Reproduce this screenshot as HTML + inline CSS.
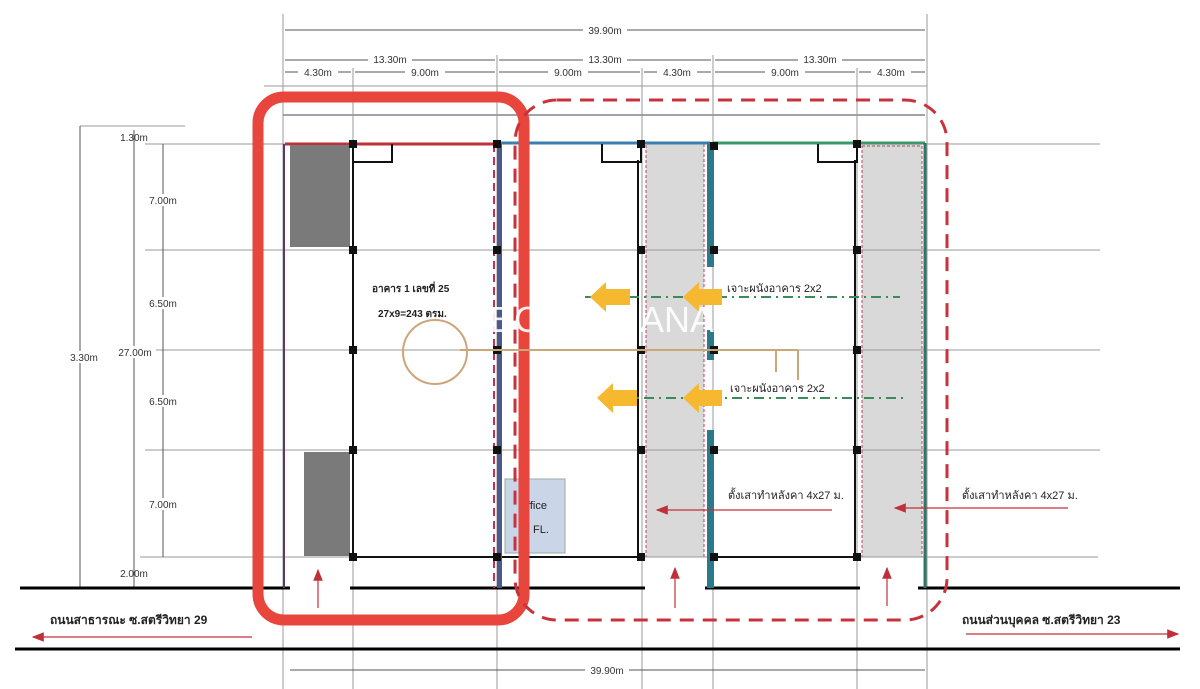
<!DOCTYPE html>
<html><head><meta charset="utf-8"><style>
html,body{margin:0;padding:0;background:#fff;}
svg{display:block;}
text{font-family:"Liberation Sans","Noto Sans CJK SC",sans-serif;}
</style></head><body>
<svg width="1200" height="689" viewBox="0 0 1200 689" xmlns="http://www.w3.org/2000/svg">
<defs>
<marker id="ra" markerWidth="10" markerHeight="8" refX="9" refY="4" orient="auto"><path d="M0,0 L10,4 L0,8z" fill="#c0303a"/></marker>
</defs>
<rect width="1200" height="689" fill="#fff"/>

<rect x="646" y="142" width="58" height="415" fill="#d9d9d9"/>
<rect x="862" y="142" width="60" height="415" fill="#d9d9d9"/>
<rect x="646" y="142" width="58" height="415" fill="none" stroke="#c04060" stroke-width="1" stroke-dasharray="3,2"/>
<rect x="862" y="146" width="60" height="411" fill="none" stroke="#c04060" stroke-width="1" stroke-dasharray="3,2"/>

<g stroke="#999" stroke-width="1">
<line x1="145" y1="144" x2="1100" y2="144"/>
<line x1="145" y1="250" x2="1100" y2="250"/>
<line x1="145" y1="350" x2="1100" y2="350"/>
<line x1="145" y1="450" x2="1100" y2="450"/>
<line x1="140" y1="557" x2="1098" y2="557"/>
<line x1="264" y1="86" x2="927" y2="86"/>
<line x1="283" y1="115" x2="925" y2="115" stroke="#445"/>
<line x1="80" y1="126" x2="185" y2="126"/>
</g>
<g stroke="#999" stroke-width="1">
<line x1="283" y1="14" x2="283" y2="689"/>
<line x1="353" y1="68" x2="353" y2="689"/>
<line x1="497" y1="55" x2="497" y2="689"/>
<line x1="642" y1="68" x2="642" y2="689"/>
<line x1="713" y1="55" x2="713" y2="689"/>
<line x1="857" y1="68" x2="857" y2="689"/>
<line x1="927" y1="14" x2="927" y2="689"/>
</g>

<g stroke="#555" stroke-width="1">
<line x1="285" y1="30" x2="925" y2="30"/>
<line x1="285" y1="60" x2="495" y2="60"/><line x1="499" y1="60" x2="711" y2="60"/><line x1="715" y1="60" x2="925" y2="60"/>
<line x1="285" y1="72" x2="351" y2="72"/><line x1="355" y1="72" x2="495" y2="72"/><line x1="499" y1="72" x2="640" y2="72"/><line x1="644" y1="72" x2="711" y2="72"/><line x1="715" y1="72" x2="855" y2="72"/><line x1="859" y1="72" x2="925" y2="72"/>
</g>
<g font-size="10" fill="#333" text-anchor="middle">
<rect x="583" y="24" width="44" height="12" fill="#fff"/><text x="605" y="34">39.90m</text>
<rect x="368" y="54" width="44" height="12" fill="#fff"/><text x="390" y="63">13.30m</text>
<rect x="583" y="54" width="44" height="12" fill="#fff"/><text x="605" y="63">13.30m</text>
<rect x="798" y="54" width="44" height="12" fill="#fff"/><text x="820" y="63">13.30m</text>
<rect x="298" y="67" width="40" height="11" fill="#fff"/><text x="318" y="76">4.30m</text>
<rect x="405" y="67" width="40" height="11" fill="#fff"/><text x="425" y="76">9.00m</text>
<rect x="548" y="67" width="40" height="11" fill="#fff"/><text x="568" y="76">9.00m</text>
<rect x="657" y="67" width="40" height="11" fill="#fff"/><text x="677" y="76">4.30m</text>
<rect x="765" y="67" width="40" height="11" fill="#fff"/><text x="785" y="76">9.00m</text>
<rect x="871" y="67" width="40" height="11" fill="#fff"/><text x="891" y="76">4.30m</text>
</g>

<g stroke="#555" stroke-width="1">
<line x1="80" y1="126" x2="80" y2="588"/>
<line x1="134" y1="130" x2="134" y2="588"/>
<line x1="163" y1="144" x2="163" y2="557"/>
<line x1="20" y1="588" x2="290" y2="588" stroke="#000" stroke-width="3"/>
</g>
<g font-size="10" fill="#333" text-anchor="middle">
<rect x="143" y="194" width="40" height="12" fill="#fff"/><text x="163" y="204">7.00m</text>
<rect x="143" y="297" width="40" height="12" fill="#fff"/><text x="163" y="307">6.50m</text>
<rect x="143" y="395" width="40" height="12" fill="#fff"/><text x="163" y="405">6.50m</text>
<rect x="143" y="498" width="40" height="12" fill="#fff"/><text x="163" y="508">7.00m</text>
<rect x="114" y="346" width="42" height="12" fill="#fff"/><text x="135" y="356">27.00m</text>
<rect x="66" y="351" width="32" height="12" fill="#fff"/><text x="84" y="361">3.30m</text>
<text x="134" y="577">2.00m</text>
<text x="134" y="141">1.30m</text>
</g>

<g stroke="#000" stroke-width="3">
<line x1="350" y1="588" x2="645" y2="588"/>
<line x1="705" y1="588" x2="860" y2="588"/>
<line x1="918" y1="588" x2="1180" y2="588"/>
<line x1="15" y1="649" x2="1180" y2="649"/>
</g>
<line x1="290" y1="670" x2="925" y2="670" stroke="#555"/>
<rect x="585" y="664" width="44" height="12" fill="#fff"/><text x="607" y="674" font-size="10" fill="#333" text-anchor="middle">39.90m</text>

<line x1="285" y1="144" x2="497" y2="144" stroke="#c0303a" stroke-width="3"/>
<line x1="497" y1="143" x2="710" y2="143" stroke="#3a7fb0" stroke-width="3"/>
<line x1="713" y1="143" x2="925" y2="143" stroke="#3a9a6a" stroke-width="3"/>
<line x1="925" y1="143" x2="925" y2="588" stroke="#2a7a6a" stroke-width="3"/>
<line x1="284" y1="144" x2="284" y2="588" stroke="#5a3a6a" stroke-width="2"/>
<rect x="497" y="144" width="5" height="444" fill="#4a5a8a"/>
<line x1="494" y1="144" x2="494" y2="588" stroke="#c0305a" stroke-width="2" stroke-dasharray="8,5"/>
<g fill="#2a7a8a">
<rect x="707" y="142" width="7" height="125"/>
<rect x="707" y="330" width="7" height="30"/>
<rect x="707" y="430" width="7" height="158"/>
</g>

<rect x="290" y="145" width="60" height="102" fill="#7a7a7a"/>
<rect x="304" y="452" width="46" height="104" fill="#7a7a7a"/>
<rect x="505" y="479" width="60" height="74" fill="#cbd5e8" stroke="#9aa" stroke-width="1"/>
<text x="537" y="509" font-size="11" fill="#222" text-anchor="middle">ffice</text>
<text x="541" y="533" font-size="11" fill="#222" text-anchor="middle">FL.</text>

<g stroke="#111" stroke-width="2" fill="none">
<line x1="353" y1="144" x2="353" y2="557"/>
<line x1="638" y1="160" x2="638" y2="557"/>
<line x1="855" y1="160" x2="855" y2="557"/>
<line x1="353" y1="557" x2="497" y2="557"/>
<line x1="502" y1="557" x2="641" y2="557"/>
<line x1="716" y1="557" x2="857" y2="557"/>
<polyline points="353,144 353,162 392,162 392,144"/>
<polyline points="641,144 641,162 602,162 602,144"/>
<polyline points="857,144 857,162 818,162 818,144"/>
</g>
<g fill="#111">
<rect x="349" y="140" width="8" height="8"/><rect x="349" y="246" width="8" height="8"/><rect x="349" y="346" width="8" height="8"/><rect x="349" y="446" width="8" height="8"/><rect x="349" y="553" width="8" height="8"/>
<rect x="493" y="140" width="8" height="8"/><rect x="493" y="246" width="8" height="8"/><rect x="493" y="346" width="8" height="8"/><rect x="493" y="446" width="8" height="8"/><rect x="493" y="553" width="8" height="8"/>
<rect x="637" y="140" width="8" height="8"/><rect x="637" y="246" width="8" height="8"/><rect x="637" y="346" width="8" height="8"/><rect x="637" y="446" width="8" height="8"/><rect x="637" y="553" width="8" height="8"/>
<rect x="710" y="142" width="8" height="8"/><rect x="710" y="246" width="8" height="8"/><rect x="710" y="346" width="8" height="8"/><rect x="710" y="446" width="8" height="8"/><rect x="710" y="553" width="8" height="8"/>
<rect x="853" y="140" width="8" height="8"/><rect x="853" y="246" width="8" height="8"/><rect x="853" y="346" width="8" height="8"/><rect x="853" y="446" width="8" height="8"/><rect x="853" y="553" width="8" height="8"/>
</g>

<g stroke="#3a8a5a" stroke-width="2" stroke-dasharray="10,5,2,5">
<line x1="585" y1="297" x2="900" y2="297"/>
<line x1="600" y1="398" x2="905" y2="398"/>
</g>
<g fill="#f5b82e">
<path d="M590,297 L606,282 L606,289 L630,289 L630,305 L606,305 L606,312z"/>
<path d="M683,297 L699,282 L699,289 L722,289 L722,305 L699,305 L699,312z"/>
<path d="M597,398 L613,383 L613,390 L637,390 L637,406 L613,406 L613,413z"/>
<path d="M683,398 L699,383 L699,390 L722,390 L722,406 L699,406 L699,413z"/>
</g>
<g font-size="11" fill="#222">
<text x="727" y="292">เจาะผนังอาคาร 2x2</text>
<text x="730" y="392">เจาะผนังอาคาร 2x2</text>
<text x="372" y="292" font-weight="bold" font-size="10">อาคาร 1 เลขที่ 25</text>
<text x="378" y="317" font-weight="bold" font-size="10">27x9=243 ตรม.</text>
<text x="728" y="499">ตั้งเสาทำหลังคา 4x27 ม.</text>
<text x="962" y="499">ตั้งเสาทำหลังคา 4x27 ม.</text>
</g>
<g stroke="#c0303a" stroke-width="1.2">
<line x1="832" y1="510" x2="657" y2="510" marker-end="url(#ra)"/>
<line x1="1068" y1="508" x2="895" y2="508" marker-end="url(#ra)"/>
<line x1="318" y1="608" x2="318" y2="570" marker-end="url(#ra)"/>
<line x1="675" y1="608" x2="675" y2="568" marker-end="url(#ra)"/>
<line x1="887" y1="606" x2="887" y2="568" marker-end="url(#ra)"/>
<line x1="252" y1="637" x2="33" y2="637" marker-end="url(#ra)"/>
<line x1="966" y1="634" x2="1178" y2="634" marker-end="url(#ra)"/>
</g>
<text x="50" y="624" font-size="12" font-weight="bold" fill="#222">ถนนสาธารณะ ซ.สตรีวิทยา 29</text>
<text x="962" y="624" font-size="12" font-weight="bold" fill="#222">ถนนส่วนบุคคล ซ.สตรีวิทยา 23</text>

<rect x="258" y="97" width="266" height="523" rx="26" fill="none" stroke="#e8453c" stroke-width="11"/>
<rect x="515" y="100" width="432" height="520" rx="42" fill="none" stroke="#c8323c" stroke-width="3" stroke-dasharray="14,9"/>

<circle cx="435" cy="352" r="32" fill="none" stroke="#c9a77a" stroke-width="2"/>
<polyline points="460,350 798,350" stroke="#c9a77a" stroke-width="2" fill="none"/>
<line x1="776" y1="350" x2="776" y2="372" stroke="#c9a77a" stroke-width="2"/>
<line x1="798" y1="350" x2="798" y2="380" stroke="#c9a77a" stroke-width="2"/>
<text x="490" y="332" font-size="36" fill="#fff" opacity="0.9">BC</text>
<text x="640" y="332" font-size="36" fill="#fff" opacity="0.9">ANA</text>
</svg>
</body></html>
